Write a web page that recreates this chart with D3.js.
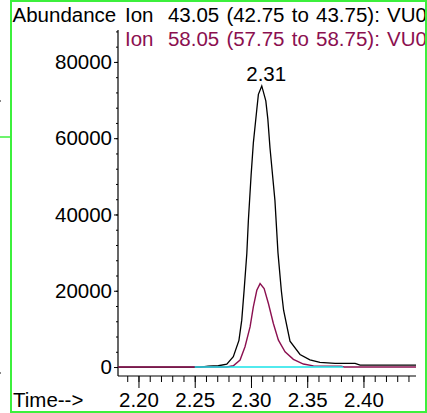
<!DOCTYPE html>
<html>
<head>
<meta charset="utf-8">
<script src="https://cdn.jsdelivr.net/npm/d3@7"></script>
<style>
  html, body { margin: 0; padding: 0; background: #fff; }
  svg { display: block; }
  text { font-family: "Liberation Sans", Arial, sans-serif; }
</style>
</head>
<body>
<script>
// ---- data ----
const ion43Times = [2.182, 2.255, 2.262, 2.271, 2.2785, 2.2843, 2.2893, 2.2918, 2.2940, 2.2963, 2.2977, 2.3001, 2.3021, 2.3052, 2.3066, 2.3096, 2.3132, 2.3150, 2.3169, 2.3213, 2.3240, 2.3270, 2.3290, 2.3347, 2.3436, 2.3524, 2.3613, 2.3748, 2.3926, 2.3970, 2.4467];
const ion43Values = [0, 0, 250, 340, 780, 2700, 7000, 12300, 20500, 29700, 38500, 50200, 58700, 67600, 71500, 73700, 69800, 65000, 57500, 43700, 30000, 20000, 14900, 6800, 3300, 1900, 1200, 970, 970, 520, 520];
const ion58Times = [2.182, 2.2785, 2.2843, 2.2903, 2.2947, 2.2992, 2.3021, 2.3052, 2.3081, 2.3117, 2.3155, 2.3199, 2.3244, 2.3303, 2.3377, 2.3466, 2.3555, 2.3800, 2.3830, 2.4467];
const ion58Values = [0, 0, 340, 1830, 5310, 10530, 15760, 20130, 21880, 20570, 16650, 11420, 7060, 4000, 2010, 780, 300, 250, 0, 0];
const baselineTimes = [2.25, 2.382];
const baselineValues = [0, 0];
const yTickValues = [0, 20000, 40000, 60000, 80000];
const xTickValues = [2.20, 2.25, 2.30, 2.35, 2.40];
const titleLines = ["Ion  43.05 (42.75 to 43.75): VU0", "Ion  58.05 (57.75 to 58.75): VU0"];
const peakLabel = "2.31";
const peakTime = 2.31;
const yTitle = "Abundance";
const xTitle = "Time-->";

// ---- drawing ----
const W = 427, H = 413;
const FONT = 20.5;
const C43 = "#000000", C58 = "#8b1050", CBASE = "#19e3e8", GREEN = "#3cf03c";

const svg = d3.select("body").append("svg").attr("width", W).attr("height", H);

svg.append("defs").append("clipPath").attr("id", "clipR")
  .append("rect").attr("x", 0).attr("y", 0).attr("width", 426).attr("height", H);

const x = d3.scaleLinear().domain([2.1818, 2.4467]).range([118, 416]);
const y = d3.scaleLinear().domain([-2350, 88370]).range([376, 30]);

// y axis minor ticks
const yMinor = d3.range(0, 88001, 4000);
svg.append("g").attr("transform", "translate(118,0)")
  .call(d3.axisLeft(y).tickValues(yMinor).tickSize(2).tickSizeOuter(0).tickFormat(""))
  .call(g => g.select(".domain").remove())
  .call(g => g.selectAll("line").attr("stroke", "#000"));
// y axis major ticks + labels
svg.append("g").attr("transform", "translate(118,0)")
  .call(d3.axisLeft(y).tickValues(yTickValues).tickSize(4).tickPadding(2).tickSizeOuter(0).tickFormat(d3.format("d")))
  .call(g => g.select(".domain").remove())
  .call(g => g.selectAll("line").attr("stroke", "#000"))
  .call(g => g.selectAll("text").attr("font-size", FONT).attr("fill", "#000").attr("font-family", "Liberation Sans, Arial, sans-serif"));
// y axis line
svg.append("line").attr("x1", 118).attr("x2", 118).attr("y1", y.range()[1]).attr("y2", y.range()[0]).attr("stroke", "#000").attr("stroke-width", 1.2);

// x axis minor ticks
const xMinor = d3.range(219, 245).map(v => v / 100);
svg.append("g").attr("transform", "translate(0,376)")
  .call(d3.axisBottom(x).tickValues(xMinor).tickSize(6).tickSizeOuter(0).tickFormat(""))
  .call(g => g.select(".domain").remove())
  .call(g => g.selectAll("line").attr("stroke", "#000"));
svg.append("g").attr("transform", "translate(0,376)")
  .call(d3.axisBottom(x).tickValues(xTickValues).tickSize(12).tickPadding(4).tickSizeOuter(0).tickFormat(d3.format(".2f")))
  .call(g => g.select(".domain").remove())
  .call(g => g.selectAll("line").attr("stroke", "#000"))
  .call(g => g.selectAll("text").attr("font-size", FONT).attr("fill", "#000").attr("font-family", "Liberation Sans, Arial, sans-serif"));
svg.append("line").attr("x1", x.range()[0]).attr("x2", x.range()[1]).attr("y1", 376).attr("y2", 376).attr("stroke", "#000").attr("stroke-width", 1.2);

// curves
const line = d3.line().x(d => x(d[0])).y(d => y(d[1]));
svg.append("path").datum(d3.zip(ion43Times, ion43Values))
  .attr("d", line).attr("fill", "none").attr("stroke", C43).attr("stroke-width", 1.3);
svg.append("path").datum(d3.zip(ion58Times, ion58Values))
  .attr("d", line).attr("fill", "none").attr("stroke", C58).attr("stroke-width", 1.4);
svg.append("path").datum(d3.zip(baselineTimes, baselineValues))
  .attr("d", line).attr("fill", "none").attr("stroke", CBASE).attr("stroke-width", 1.4);

// peak label
const peakVal = d3.max(ion43Values);
svg.append("text").attr("x", x(peakTime) + 4).attr("y", y(peakVal) - 5)
  .attr("text-anchor", "middle").attr("font-size", FONT).attr("fill", "#000").text(peakLabel);

// titles
const tg = svg.append("g").attr("clip-path", "url(#clipR)");
tg.append("text").attr("x", 12.5).attr("y", 22).attr("font-size", FONT).attr("fill", "#000").text(yTitle);
tg.append("text").attr("x", 125).attr("y", 22).attr("font-size", FONT).attr("fill", C43)
  .style("white-space", "pre").style("word-spacing", "1.5px").text(titleLines[0]);
tg.append("text").attr("x", 125).attr("y", 46).attr("font-size", FONT).attr("fill", C58)
  .style("white-space", "pre").style("word-spacing", "1.5px").text(titleLines[1]);
svg.append("text").attr("x", 13).attr("y", 406.5).attr("font-size", FONT).attr("fill", "#000").text(xTitle);

// frame
svg.append("rect").attr("x", 11).attr("y", 1).attr("width", 415).attr("height", 411)
  .attr("fill", "none").attr("stroke", GREEN).attr("stroke-width", 2);
svg.append("line").attr("x1", 0).attr("x2", 10).attr("y1", 137).attr("y2", 137).attr("stroke", GREEN).attr("stroke-width", 1.5);
svg.append("rect").attr("x", 0).attr("y", 100).attr("width", 1).attr("height", 2).attr("fill", "#888");
svg.append("rect").attr("x", 0).attr("y", 372).attr("width", 1).attr("height", 2).attr("fill", "#888");
</script>
</body>
</html>
